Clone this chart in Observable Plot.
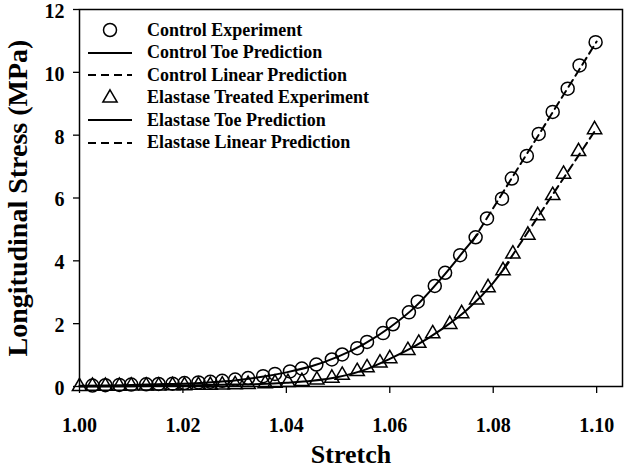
<!DOCTYPE html>
<html>
<head>
<meta charset="utf-8">
<script src="https://cdn.jsdelivr.net/npm/d3@7"></script>
<script src="https://cdn.jsdelivr.net/npm/@observablehq/plot@0.6"></script>
<style>
  body { margin: 0; background: white; }
  #wrap { position: relative; width: 625px; height: 467px; background: white; }
  #legend { position: absolute; left: 86px; top: 19px; font-family: "Liberation Serif", "Times New Roman", serif; font-weight: bold; font-size: 18px; color: black; }
  #legend .row { display: flex; align-items: center; height: 22.5px; }
  #legend svg { width: 48px; height: 22px; margin-right: 13px; flex: none; }
  [aria-label="y-axis label"] text { font-size: 28px; }
  [aria-label="x-axis label"] text { font-size: 26px; }
</style>
</head>
<body>
<div id="wrap">
  <div id="chart"></div>
  <div id="legend"></div>
</div>
<script>
// ---- Data ----
const ticksX = [1.00, 1.02, 1.04, 1.06, 1.08, 1.10];
const ticksY = [0, 2, 4, 6, 8, 10, 12];

const controlStretch = [1.0025,1.0050,1.0077,1.0100,1.0129,1.0153,1.0180,1.0203,1.0230,1.0253,1.0276,1.0301,1.0326,1.0355,1.0378,1.0407,1.0430,1.0458,1.0488,1.0508,1.0537,1.0556,1.0587,1.0606,1.0637,1.0654,1.0687,1.0707,1.0736,1.0766,1.0788,1.0817,1.0836,1.0865,1.0888,1.0915,1.0944,1.0967,1.0998];
const controlStress = [0.03,0.04,0.05,0.06,0.07,0.08,0.09,0.11,0.13,0.15,0.18,0.22,0.27,0.33,0.40,0.48,0.57,0.70,0.86,1.02,1.22,1.42,1.70,1.98,2.36,2.70,3.20,3.62,4.18,4.75,5.35,5.98,6.62,7.34,8.04,8.74,9.48,10.22,10.96];

const elastaseStretch = [1.0000,1.0025,1.0050,1.0077,1.0100,1.0129,1.0153,1.0180,1.0203,1.0230,1.0253,1.0276,1.0301,1.0326,1.0359,1.0378,1.0403,1.0430,1.0459,1.0488,1.0508,1.0537,1.0556,1.0581,1.0600,1.0635,1.0656,1.0683,1.0716,1.0739,1.0768,1.0790,1.0819,1.0838,1.0867,1.0886,1.0915,1.0936,1.0965,1.0996];
const elastaseStress = [0,0.01,0.01,0.01,0.02,0.02,0.02,0.03,0.03,0.04,0.04,0.05,0.06,0.07,0.09,0.11,0.13,0.16,0.21,0.27,0.36,0.48,0.60,0.75,0.89,1.15,1.38,1.68,1.98,2.32,2.76,3.15,3.69,4.22,4.82,5.44,6.08,6.76,7.48,8.18];

const controlToeStretch = [1.000,1.005,1.010,1.015,1.020,1.025,1.030,1.035,1.040,1.045,1.050,1.055,1.060,1.065,1.070,1.075,1.077];
const controlToeStress = [0.02,0.03,0.05,0.07,0.09,0.13,0.19,0.30,0.45,0.65,0.95,1.35,1.88,2.55,3.45,4.45,4.85];
const controlLinStretch = [1.076, 1.100];
const controlLinStress = [4.62, 10.98];

const elastaseToeStretch = [1.000,1.010,1.020,1.030,1.035,1.040,1.045,1.050,1.055,1.060,1.065,1.070,1.075,1.080,1.083];
const elastaseToeStress = [0,0.01,0.03,0.06,0.08,0.12,0.18,0.30,0.52,0.88,1.30,1.82,2.45,3.30,3.95];
const elastaseLinStretch = [1.082, 1.100];
const elastaseLinStress = [3.75, 8.22];

const legendItems = [
  {label: "Control Experiment", kind: "circle"},
  {label: "Control Toe Prediction", kind: "solid"},
  {label: "Control Linear Prediction", kind: "dashed"},
  {label: "Elastase Treated Experiment", kind: "triangle"},
  {label: "Elastase Toe Prediction", kind: "solid"},
  {label: "Elastase Linear Prediction", kind: "dashed"}
];

const zip = (xs, ys) => xs.map((x, i) => ({x, y: ys[i]}));
const control = zip(controlStretch, controlStress);
const elastase = zip(elastaseStretch, elastaseStress);
const cToe = zip(controlToeStretch, controlToeStress);
const cLin = zip(controlLinStretch, controlLinStress);
const eToe = zip(elastaseToeStretch, elastaseToeStress);
const eLin = zip(elastaseLinStretch, elastaseLinStress);

const DASH = "8,5";

const chart = Plot.plot({
  width: 625,
  height: 467,
  marginLeft: 79,
  marginRight: 3,
  marginTop: 9,
  marginBottom: 81,
  x: {domain: [1.0, 1.105]},
  y: {domain: [0, 12]},
  style: {fontFamily: "'Liberation Serif', 'Times New Roman', serif", fontWeight: "bold", fontSize: "20px", color: "black", background: "white"},
  marks: [
    Plot.frame({stroke: "black", strokeWidth: 1.5}),
    Plot.axisX({ticks: ticksX, tickFormat: d => d.toFixed(2), tickSize: 7, tickPadding: 24, strokeWidth: 1.3,
      label: "Stretch", labelAnchor: "center", labelArrow: "none", labelOffset: 76}),
    Plot.axisY({ticks: ticksY, tickSize: 6, tickFormat: () => "", strokeWidth: 1.3, label: null}),
    Plot.axisY({ticks: ticksY, tickSize: 0, tickPadding: 15, dy: 2,
      label: "Longitudinal Stress (MPa)", labelAnchor: "center", labelArrow: "none", labelOffset: 72}),
    Plot.line(cToe, {x: "x", y: "y", stroke: "black", strokeWidth: 2, curve: "monotone-x"}),
    Plot.line(cLin, {x: "x", y: "y", stroke: "black", strokeWidth: 2, strokeDasharray: DASH}),
    Plot.line(eToe, {x: "x", y: "y", stroke: "black", strokeWidth: 2, curve: "monotone-x"}),
    Plot.line(eLin, {x: "x", y: "y", stroke: "black", strokeWidth: 2, strokeDasharray: DASH}),
    Plot.dot(control, {x: "x", y: "y", symbol: "circle", r: 6.5, stroke: "black", strokeWidth: 1.5, fill: "none"}),
    Plot.dot(elastase, {x: "x", y: "y", symbol: "triangle", r: 5.3, stroke: "black", strokeWidth: 1.5, fill: "none"})
  ]
});
document.getElementById("chart").appendChild(chart);

// Legend
const legend = document.getElementById("legend");
for (const item of legendItems) {
  const row = document.createElement("div");
  row.className = "row";
  const svg = d3.create("svg").attr("viewBox", "0 0 48 22");
  if (item.kind === "circle") {
    svg.append("circle").attr("cx", 24).attr("cy", 11).attr("r", 6.5).attr("fill", "none").attr("stroke", "black").attr("stroke-width", 1.5);
  } else if (item.kind === "triangle") {
    svg.append("path").attr("transform", "translate(24,11)").attr("d", d3.symbol(d3.symbolTriangle, 5.3 * 5.3 * Math.PI)()).attr("fill", "none").attr("stroke", "black").attr("stroke-width", 1.5);
  } else {
    const l = svg.append("line").attr("x1", 2).attr("x2", 46).attr("y1", 11).attr("y2", 11).attr("stroke", "black").attr("stroke-width", 2);
    if (item.kind === "dashed") l.attr("stroke-dasharray", DASH);
  }
  row.appendChild(svg.node());
  const span = document.createElement("span");
  span.textContent = item.label;
  row.appendChild(span);
  legend.appendChild(row);
}
</script>
</body>
</html>
